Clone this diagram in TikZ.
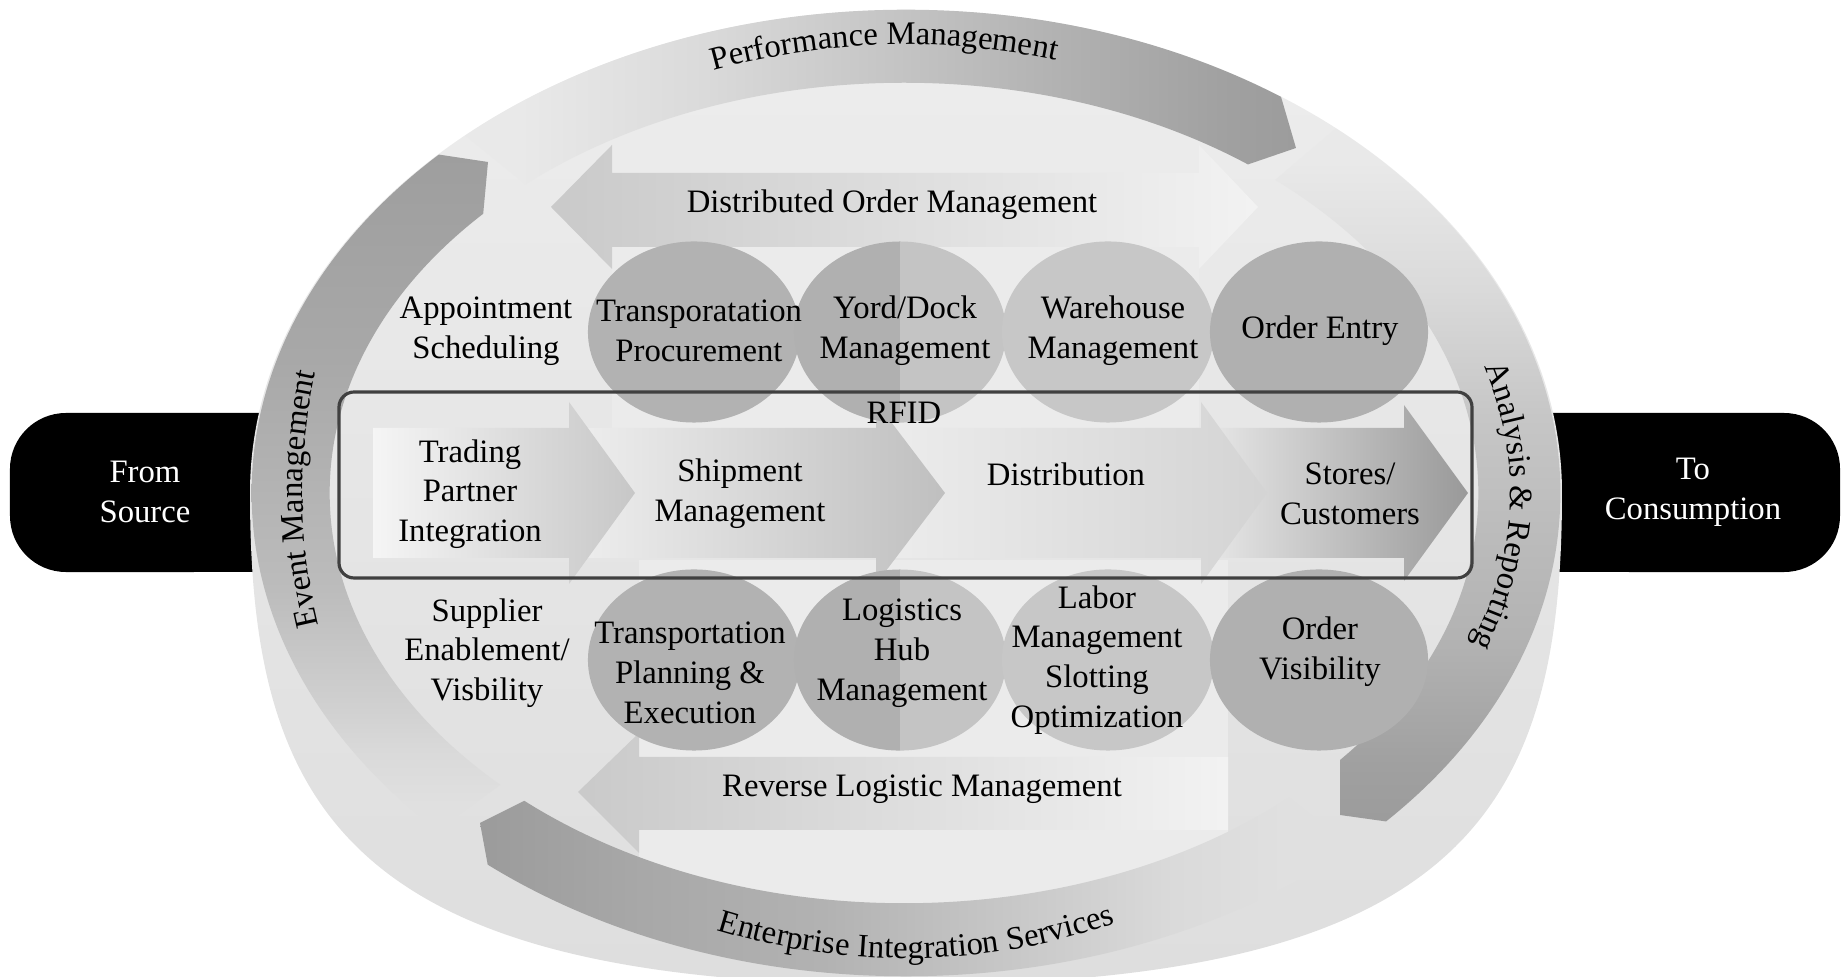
\documentclass[tikz,border=0pt]{standalone}
\usepackage{fontspec}
\setmainfont{Liberation Serif}
\usetikzlibrary{decorations.text}
\definecolor{ringtop}{HTML}{E9E9E9}
\definecolor{ringbot}{HTML}{E0E0E0}
\definecolor{g1}{HTML}{DADADA}
\definecolor{g2}{HTML}{D0D0D0}
\definecolor{g3}{HTML}{C6C6C6}
\definecolor{g4}{HTML}{BCBCBC}
\definecolor{g5}{HTML}{B2B2B2}
\definecolor{g6}{HTML}{A8A8A8}
\definecolor{g7}{HTML}{A0A0A0}
\definecolor{g8}{HTML}{9C9C9C}
\pgfdeclarehorizontalshading{bandLR}{100bp}{color(0bp)=(ringtop); color(33bp)=(ringtop); color(43bp)=(g1); color(52.5bp)=(g3); color(62bp)=(g5); color(71.5bp)=(g7); color(75bp)=(g8); color(100bp)=(g8)}
\pgfdeclarehorizontalshading{bandRL}{100bp}{color(0bp)=(g8); color(25.5bp)=(g8); color(33bp)=(g6); color(41.8bp)=(g5); color(50.4bp)=(g3); color(59bp)=(g1); color(64.5bp)=(ringbot); color(100bp)=(ringbot)}
\pgfdeclareverticalshading{bandBT}{100bp}{color(0bp)=(ringbot); color(33bp)=(ringbot); color(36bp)=(g1); color(39bp)=(g2); color(46bp)=(g4); color(53bp)=(g5); color(60bp)=(g6); color(70bp)=(g7); color(75bp)=(g8); color(100bp)=(g8)}
\pgfdeclareverticalshading{bandTB}{100bp}{color(0bp)=(g8); color(28bp)=(g8); color(31bp)=(g7); color(37.5bp)=(g5); color(44bp)=(g4); color(50bp)=(g3); color(57bp)=(g1); color(64bp)=(ringtop); color(100bp)=(ringtop)}
\newcommand{\ringfont}{\fontsize{9.3}{11}\selectfont}
\tikzset{
  lbl/.style={align=center, font=\fontsize{9.3}{11.3}\selectfont, text=black, inner sep=0pt},
  pilltext/.style={lbl, text=white},
  blob/.style={x radius=1.06cm, y radius=0.905cm},
  ringtext/.style={decorate, decoration={text along path, text align=center, text={#1}}}
}
\begin{document}
\begin{tikzpicture}[x=0.01cm,y=0.01cm]
\useasboundingbox (0,0) rectangle (1841,-977);

% black end pills
\fill[black] (300,-413) -- (66,-413) arc[start angle=90,end angle=180,radius=0.56cm] -- (10,-516) arc[start angle=180,end angle=270,radius=0.56cm] -- (300,-572) -- cycle;
\fill[black] (1500,-413) -- (1784,-413) arc[start angle=90,end angle=0,radius=0.56cm] -- (1840,-516) arc[start angle=0,end angle=-90,radius=0.56cm] -- (1500,-572) -- cycle;

% big light background (elliptic top, fuller bottom)
\shade[top color=black!7, bottom color=black!13] (1562,-493) .. controls (1562,-226.2) and (1268.3,-10) .. (906,-10) .. controls (543.7,-10) and (250,-226.2) .. (250,-493) .. controls (250,-812) and (350,-985) .. (906,-985) .. controls (1462,-985) and (1562,-812) .. (1562,-493) -- cycle;

% light blocks behind the arrows
\fill[black!8] (612,-145) rectangle (1199,-430);
\fill[black!8] (639,-560) rectangle (1228,-905);

% ring bands
\begin{scope}[even odd rule]
\clip (906,-493) ellipse [x radius=6.54cm, y radius=4.83cm] (904,-493) ellipse [x radius=5.74cm, y radius=4.10cm];
\shade[shading=bandLR] (906,-493) -- (372,-60) -- (372,40) -- (1241,40) -- (1296,-148) -- (1150,-198) -- cycle;
\shade[shading=bandTB] (906,-493) -- (1472,-13) -- (1472,40) -- (1760,40) -- (1760,-874) -- (1340,-815) -- (1340,-600) -- cycle;
\shade[shading=bandRL] (906,-493) -- (1500,-965) -- (1500,-1050) -- (522,-1050) -- (480,-823) -- (700,-713) -- cycle;
\shade[shading=bandBT] (906,-493) -- (289,-937) -- (150,-937) -- (150,-111) -- (488,-162) -- (466,-400) -- cycle;
\end{scope}

% double arrow and reverse arrow
\shade[left color=black!21, right color=black!5] (551,-207) -- (612,-145) -- (612,-173) -- (1199,-173) -- (1199,-145) -- (1258,-207) -- (1199,-269) -- (1199,-247) -- (612,-247) -- (612,-269) -- cycle;
\shade[left color=black!21, right color=black!5] (578,-792) -- (639,-733) -- (639,-757) -- (1228,-757) -- (1228,-830) -- (639,-830) -- (639,-853) -- cycle;

% chevrons
\shade[left color=black!8, right color=black!40] (1195,-428) -- (1404,-428) -- (1404,-405) -- (1468,-493) -- (1404,-581) -- (1404,-558) -- (1195,-558) -- cycle;
\shade[left color=black!7, right color=black!17] (870,-428) -- (1201,-428) -- (1201,-402) -- (1267,-493) -- (1201,-584) -- (1201,-558) -- (870,-558) -- cycle;
\shade[left color=black!6, right color=black!25] (560,-428) -- (876,-428) -- (876,-402) -- (945,-493) -- (876,-584) -- (876,-558) -- (560,-558) -- cycle;
\shade[left color=black!4, right color=black!22] (373,-428) -- (569,-428) -- (569,-402) -- (635,-493) -- (569,-584) -- (569,-558) -- (373,-558) -- cycle;

% circles, top row
\fill[black!30] (694,-332) ellipse [blob];
\fill[black!31] (900,-241.5) arc[start angle=90,end angle=270,x radius=1.06cm,y radius=0.905cm] -- cycle;
\fill[black!23] (900,-241.5) arc[start angle=90,end angle=-90,x radius=1.06cm,y radius=0.905cm] -- cycle;
\fill[black!22] (1108,-332) ellipse [blob];
\fill[black!31] (1319,-332) ellipse [x radius=1.09cm, y radius=0.905cm];
% circles, bottom row
\fill[black!30] (694,-660) ellipse [blob];
\fill[black!31] (900,-569.5) arc[start angle=90,end angle=270,x radius=1.06cm,y radius=0.905cm] -- cycle;
\fill[black!23] (900,-569.5) arc[start angle=90,end angle=-90,x radius=1.06cm,y radius=0.905cm] -- cycle;
\fill[black!22] (1108,-660) ellipse [blob];
\fill[black!31] (1319,-660) ellipse [x radius=1.09cm, y radius=0.905cm];

% RFID frame
\draw[black!75, line width=0.9pt, rounded corners=4.3pt] (339,-392) rectangle (1472,-578);

% labels
\node[lbl] (dom) at (892,-205) {Distributed Order Management};
\node[lbl] (appt) at (486,-331) {Appointment\\Scheduling};
\node[lbl] (tproc) at (699,-331) {Transporatation\\Procurement};
\node[lbl] (yard) at (905,-331) {Yord/Dock\\Management};
\node[lbl] (wm) at (1113,-331) {Warehouse\\Management};
\node[lbl] (oe) at (1320,-331) {Order Entry};
\node[lbl] (rfid) at (904,-413) {RFID};
\node[lbl] (tpi) at (470,-494) {Trading\\Partner\\Integration};
\node[lbl] (ship) at (740,-494) {Shipment\\Management};
\node[lbl] (dist) at (1066,-474) {Distribution};
\node[lbl] (stores) at (1350,-494) {Stores/\\Customers};
\node[lbl] (supp) at (487,-653) {Supplier\\Enablement/\\Visbility};
\node[lbl] (tpe) at (690,-673) {Transportation\\Planning \&\\Execution};
\node[lbl] (lhm) at (902,-653) {Logistics\\Hub\\Management};
\node[lbl] (lab) at (1097,-660) {Labor\\Management\\Slotting\\Optimization};
\node[lbl] (ov) at (1320,-652) {Order\\Visibility};
\node[lbl] (rlm) at (922,-789) {Reverse Logistic Management};
\node[pilltext] (src) at (145,-492) {From\\Source};
\node[pilltext] (cons) at (1693,-492) {To\\Consumption};

% curved ring labels
\path[ringtext={|\ringfont|Performance Management}] ([shift={(906,-493)}]152.6:5.75cm and 4.48cm) arc[start angle=152.6, end angle=32.6, x radius=5.75cm, y radius=4.48cm];
\path[ringtext={|\ringfont|Analysis {\&} Reporting}] ([shift={(906,-493)}]33.4:6.04cm and 4.30cm) arc[start angle=33.4, end angle=-36.6, x radius=6.04cm, y radius=4.30cm];
\path[ringtext={|\ringfont|Enterprise Integration Services}] ([shift={(906,-493)}]241.15:5.50cm and 4.65cm) arc[start angle=241.15, end angle=301.15, x radius=5.50cm, y radius=4.65cm];
\path[ringtext={|\ringfont|Event Management}] ([shift={(906,-493)}]210.6:6.03cm and 5.80cm) arc[start angle=210.6, end angle=150.6, x radius=6.03cm, y radius=5.80cm];
\end{tikzpicture}
\end{document}
